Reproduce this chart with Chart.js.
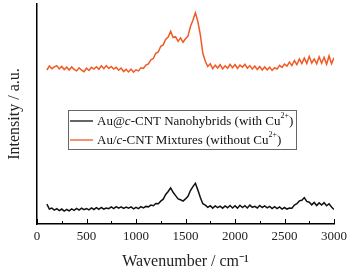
<!DOCTYPE html>
<html lang="en">
<head>
  <meta charset="UTF-8"/>
  <title>Raman spectra</title>
  <script src="https://cdn.jsdelivr.net/npm/chart.js"></script>
  <style>
    body {
      margin: 0;
      background: #fff;
    }
    .wrap {
      width: 354px;
      height: 272px;
    }
  </style>
</head>
<body>
  <div class="wrap"><canvas id="raman"></canvas></div>

  <script>
    // Raman shift (cm-1), one sample every 25 cm-1
    const wavenumbers = [
      100, 125, 150, 175, 200, 225, 250, 275, 300,
      325, 350, 375, 400, 425, 450, 475, 500,
      525, 550, 575, 600, 625, 650, 675, 700,
      725, 750, 775, 800, 825, 850, 875, 900,
      925, 950, 975, 1000, 1025, 1050, 1075, 1100,
      1125, 1150, 1175, 1200, 1225, 1250, 1275, 1300,
      1325, 1350, 1375, 1400, 1425, 1450, 1475, 1500,
      1525, 1550, 1575, 1600, 1625, 1650, 1675, 1700,
      1725, 1750, 1775, 1800, 1825, 1850, 1875, 1900,
      1925, 1950, 1975, 2000, 2025, 2050, 2075, 2100,
      2125, 2150, 2175, 2200, 2225, 2250, 2275, 2300,
      2325, 2350, 2375, 2400, 2425, 2450, 2475, 2500,
      2525, 2550, 2575, 2600, 2625, 2650, 2675, 2700,
      2725, 2750, 2775, 2800, 2825, 2850, 2875, 2900,
      2925, 2950, 2975, 3000
    ];

    // Au@c-CNT nanohybrids (with Cu2+), arbitrary units
    const withCu = [
      9.0, 6.8, 7.2, 6.3, 7.0, 6.1, 6.8, 5.9, 6.6,
      6.0, 6.9, 6.2, 7.1, 6.3, 7.2, 6.5, 7.0,
      6.4, 7.3, 6.6, 7.4, 6.7, 7.5, 6.8, 7.3,
      7.0, 7.8, 7.0, 7.9, 7.2, 7.8, 7.1, 7.7,
      7.2, 7.8, 6.9, 7.6, 7.0, 7.9, 7.3, 8.0,
      7.8, 8.6, 8.3, 9.3, 9.2, 10.4, 11.3, 13.4,
      14.8, 16.4, 14.4, 12.9, 11.4, 11.0, 10.4, 11.4,
      12.6, 15.2, 17.0, 18.5, 15.4, 12.0, 9.2, 8.6,
      7.6, 8.3, 7.2, 8.2, 7.4, 8.1, 7.2, 8.2,
      7.4, 8.4, 7.3, 8.3, 7.2, 8.5, 7.5, 8.3,
      7.3, 8.6, 7.6, 8.0, 7.3, 8.4, 7.5, 8.2,
      7.3, 8.0, 7.0, 7.9, 7.0, 7.8, 6.8, 7.5,
      6.8, 7.3, 7.2, 8.6, 9.2, 10.5, 10.8, 12.0,
      10.3, 9.9, 8.7, 9.8, 8.4, 9.6, 8.6, 9.7,
      8.3, 9.2, 7.7, 6.6
    ];

    // Au/c-CNT mixtures (without Cu2+), arbitrary units
    const withoutCu = [
      70.0, 71.8, 70.6, 71.4, 72.0, 70.5, 71.6, 70.2, 71.3,
      70.0, 71.4, 70.3, 69.6, 71.0, 69.9, 69.2, 70.8,
      69.8, 71.2, 70.4, 71.5, 70.3, 71.9, 70.6, 72.0,
      70.7, 71.6, 70.4, 71.2, 69.9, 70.9, 69.3, 70.3,
      69.1, 70.4, 69.0, 70.1, 69.6, 71.0, 70.7, 72.2,
      72.8, 74.6, 75.2, 77.6, 78.2, 80.8, 81.4, 84.0,
      85.0, 87.6, 84.8, 85.2, 83.0, 84.6, 82.6, 84.2,
      85.4, 89.8, 92.6, 96.0, 92.0, 86.0, 77.6, 74.0,
      71.6, 72.8, 70.6, 72.2, 70.9, 72.4, 70.5, 71.9,
      70.8, 72.6, 71.0, 72.5, 70.7, 72.2, 71.3, 72.6,
      70.8, 72.0, 70.4, 71.8, 70.2, 71.6, 70.0, 71.4,
      70.1, 71.3, 69.8, 71.0, 70.4, 72.1, 71.2, 72.7,
      71.8, 73.6, 72.0, 74.3, 72.4, 75.0, 72.9, 75.4,
      73.0, 76.2, 73.2, 75.0, 72.8, 76.0, 73.1, 75.8,
      72.6, 76.4, 72.8, 75.6
    ];

    const xTicks = [0, 500, 1000, 1500, 2000, 2500, 3000];

    const serif = "'Liberation Serif', 'Times New Roman', serif";

    function toPoints(ys) {
      return wavenumbers.map((w, i) => ({ x: w, y: ys[i] }));
    }

    // inward tick marks on the x axis, majors every 500 and minors between
    const inwardTicks = {
      id: 'inwardTicks',
      afterDraw(chart) {
        const ctx = chart.ctx;
        const x = chart.scales.x;
        const base = chart.chartArea.bottom;
        ctx.save();
        ctx.strokeStyle = '#000';
        ctx.lineWidth = 1;
        xTicks.forEach((v, i) => {
          const px = Math.round(x.getPixelForValue(v)) + 0.5;
          ctx.beginPath();
          ctx.moveTo(px, base);
          ctx.lineTo(px, base - 5);
          ctx.stroke();
          if (i < xTicks.length - 1) {
            const mx = Math.round(x.getPixelForValue((v + xTicks[i + 1]) / 2)) + 0.5;
            ctx.beginPath();
            ctx.moveTo(mx, base);
            ctx.lineTo(mx, base - 3);
            ctx.stroke();
          }
        });
        ctx.restore();
      }
    };

    // boxed legend inside the plot, with italic "c" and superscript charge
    const boxLegend = {
      id: 'boxLegend',
      afterDraw(chart) {
        const ctx = chart.ctx;
        const entries = [
          [['Au@', ''], ['c', 'italic '], ['-CNT Nanohybrids (with Cu', ''], ['2+', 'sup'], [')', '']],
          [['Au/', ''], ['c', 'italic '], ['-CNT Mixtures (without Cu', ''], ['2+', 'sup'], [')', '']]
        ];
        const left = 68, top = 110, w = 228, h = 39;
        ctx.save();
        ctx.strokeStyle = '#666';
        ctx.lineWidth = 1;
        ctx.strokeRect(left + 0.5, top + 0.5, w, h);
        entries.forEach((parts, k) => {
          const ds = chart.data.datasets[k];
          const y = top + 11 + k * 19;
          ctx.strokeStyle = ds.borderColor;
          ctx.lineWidth = 1.3;
          ctx.beginPath();
          ctx.moveTo(left + 2, y);
          ctx.lineTo(left + 25, y);
          ctx.stroke();
          let tx = left + 29;
          ctx.fillStyle = '#111';
          ctx.textBaseline = 'middle';
          parts.forEach(([txt, style]) => {
            if (style === 'sup') {
              ctx.font = '8px ' + serif;
              ctx.fillText(txt, tx, y - 5);
            } else {
              ctx.font = style + '13px ' + serif;
              ctx.fillText(txt, tx, y + 1);
            }
            tx += ctx.measureText(txt).width;
          });
        });
        ctx.restore();
      }
    };

    new Chart(document.getElementById('raman'), {
      type: 'line',
      data: {
        datasets: [
          {
            label: 'Au@c-CNT Nanohybrids (with Cu2+)',
            data: toPoints(withCu),
            borderColor: '#111111',
            borderWidth: 1.5,
            pointRadius: 0,
            tension: 0
          },
          {
            label: 'Au/c-CNT Mixtures (without Cu2+)',
            data: toPoints(withoutCu),
            borderColor: '#f05a24',
            borderWidth: 1.5,
            pointRadius: 0,
            tension: 0
          }
        ]
      },
      options: {
        responsive: true,
        maintainAspectRatio: false,
        animation: false,
        layout: {
          padding: { top: 4, right: 20, bottom: 0, left: 0 }
        },
        plugins: {
          legend: { display: false },
          tooltip: { enabled: false }
        },
        scales: {
          x: {
            type: 'linear',
            min: 0,
            max: 3000,
            afterBuildTicks: scale => {
              scale.ticks = xTicks.map(v => ({ value: v }));
            },
            afterFit: scale => { scale.height = 48; },
            grid: { display: false, drawTicks: false },
            border: { display: true, color: '#000', width: 1.5 },
            ticks: {
              padding: 5,
              maxRotation: 0,
              color: '#222',
              font: { family: serif, size: 13 },
              callback: v => String(v)
            },
            title: {
              display: true,
              text: 'Wavenumber / cm⁻¹',
              color: '#222',
              padding: { top: 0, bottom: 1 },
              font: { family: serif, size: 16 }
            }
          },
          y: {
            min: 0,
            max: 100,
            afterFit: scale => { scale.width = 37; },
            grid: { display: false, drawTicks: false },
            border: { display: true, color: '#000', width: 1.5 },
            ticks: { display: false },
            title: {
              display: true,
              text: 'Intensity / a.u.',
              color: '#222',
              padding: { top: 5, bottom: 0 },
              font: { family: serif, size: 16 }
            }
          }
        }
      },
      plugins: [inwardTicks, boxLegend]
    });
  </script>
</body>
</html>
